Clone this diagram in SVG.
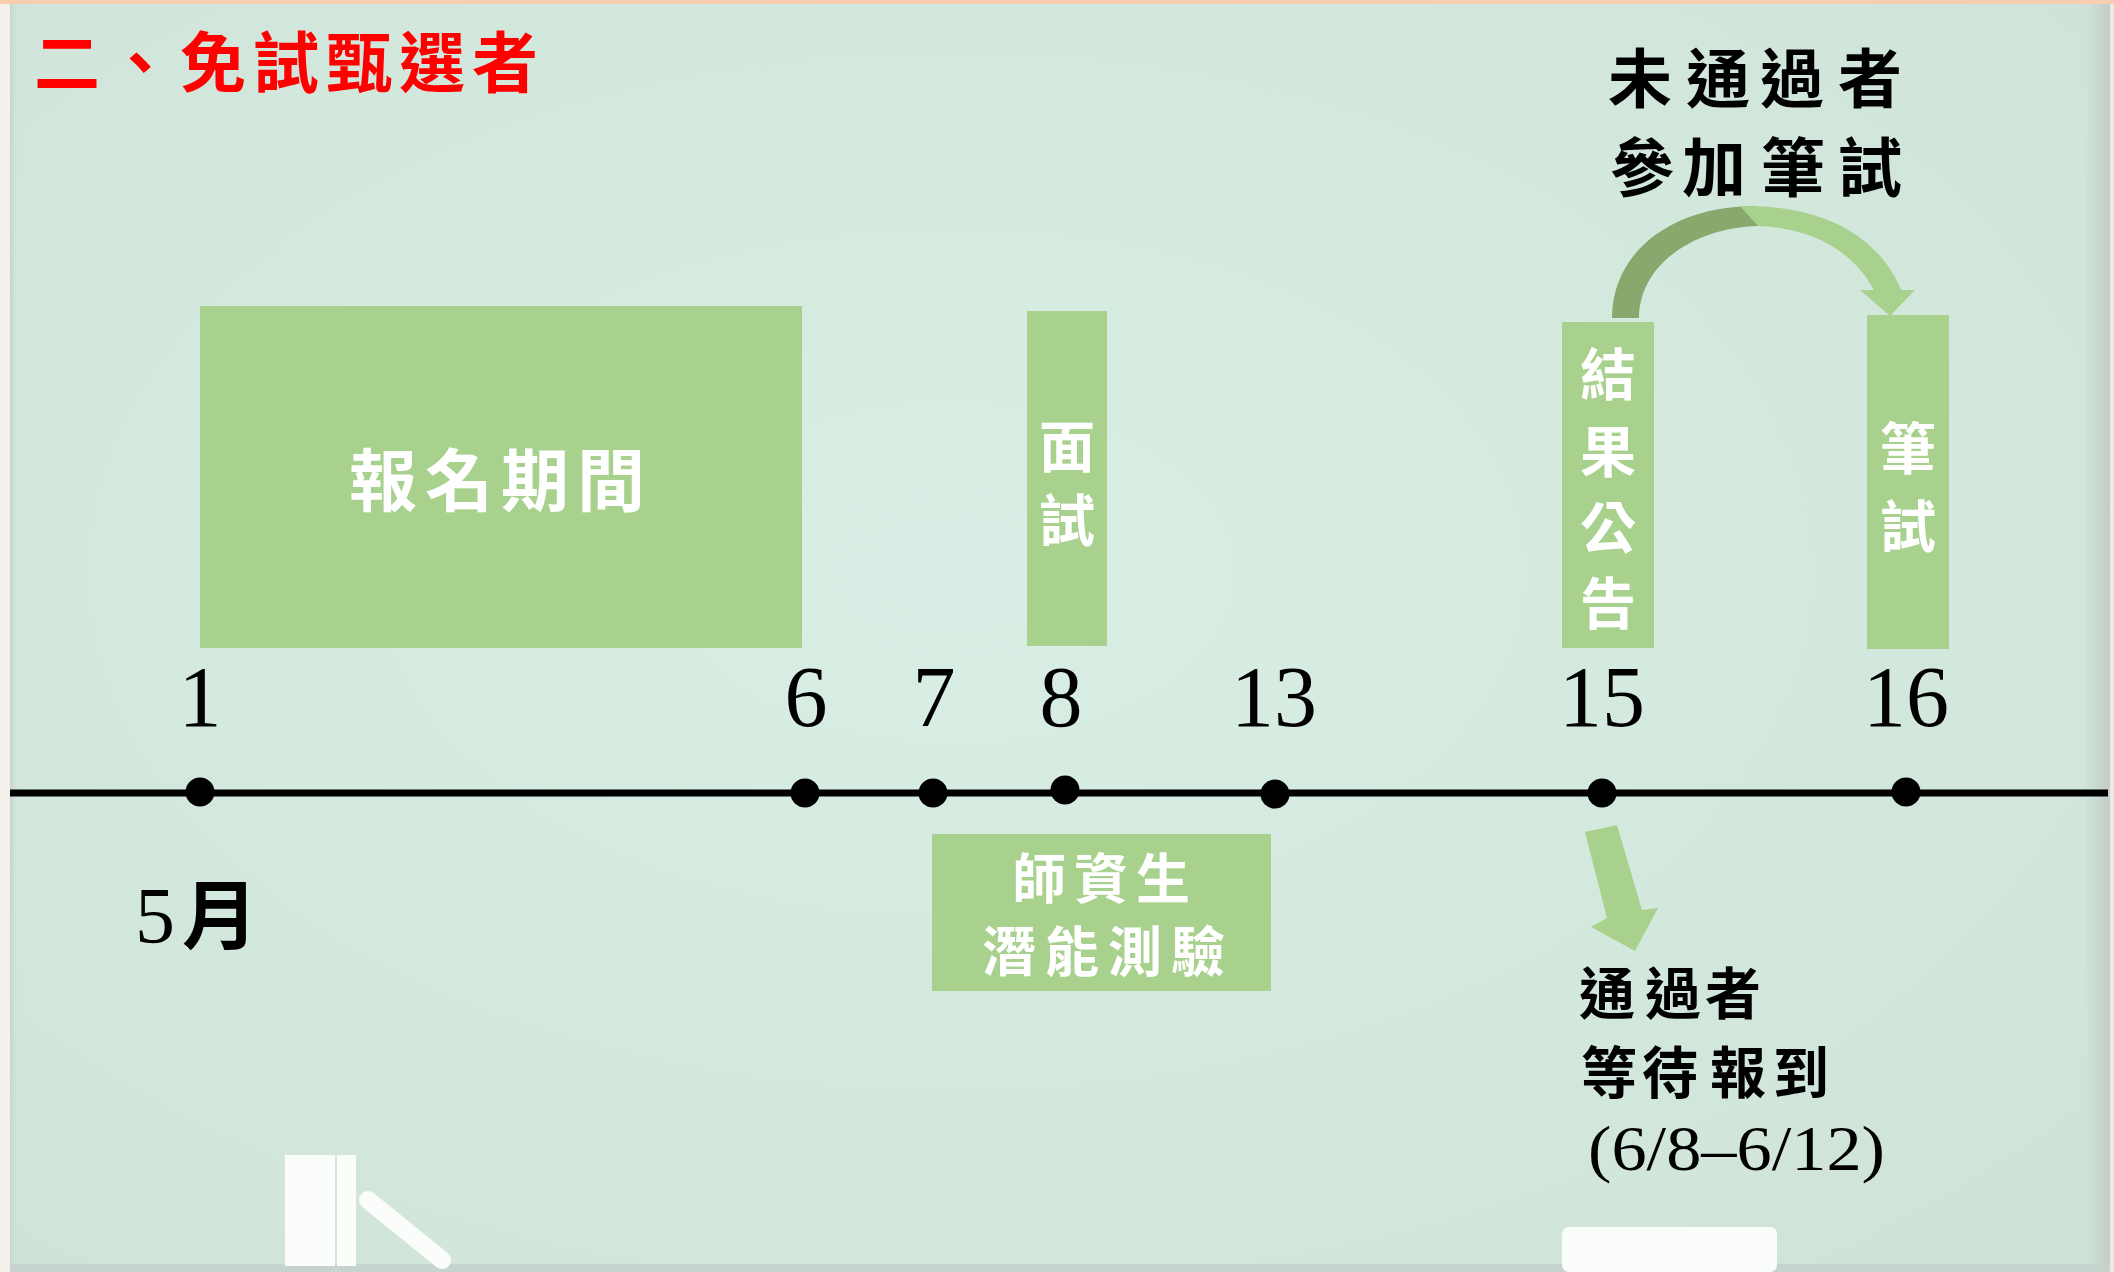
<svg xmlns="http://www.w3.org/2000/svg" width="2114" height="1272" viewBox="0 0 2114 1272">
  <defs>
    <radialGradient id="board" cx="0.45" cy="0.45" r="0.75">
      <stop offset="0" stop-color="#d9eee4"/>
      <stop offset="0.6" stop-color="#d3e8dd"/>
      <stop offset="1" stop-color="#cfe2d7"/>
    </radialGradient>
    <linearGradient id="rightEdge" x1="0" y1="0" x2="1" y2="0">
      <stop offset="0" stop-color="#d0e3d8"/>
      <stop offset="1" stop-color="#c3ccc8"/>
    </linearGradient>
    <linearGradient id="leftShadow" x1="0" y1="0" x2="1" y2="0">
      <stop offset="0" stop-color="#c9d2cc"/>
      <stop offset="1" stop-color="#d3e8dd" stop-opacity="0"/>
    </linearGradient>
    <style>
      .box { fill: #a9d18e; }
      .cjkw { font-family: "Noto Sans CJK TC", "Noto Sans CJK SC", sans-serif; font-weight: 700; fill: #ffffff; }
      .cjkb { font-family: "Noto Sans CJK TC", "Noto Sans CJK SC", sans-serif; font-weight: 700; fill: #000000; }
      .num { font-family: "Liberation Serif", serif; font-size: 86px; fill: #000000; text-anchor: middle; }
      .dot { fill: #000000; }
      .chalk { fill: #fbfdfb; }
    </style>
  </defs>

  <!-- background board -->
  <rect x="0" y="0" width="2114" height="1272" fill="url(#board)"/>
  <rect x="0" y="0" width="10" height="1272" fill="#f3f1ea"/>
  <rect x="10" y="0" width="10" height="1272" fill="url(#leftShadow)"/>
  <rect x="2086" y="0" width="24" height="1272" fill="url(#rightEdge)"/>
  <rect x="2110" y="0" width="4" height="1272" fill="#efebe3"/>
  <rect x="0" y="0" width="2114" height="4" fill="#f8cdb0"/>
  <rect x="10" y="1264" width="2100" height="8" fill="#c6d4cd"/>

  <!-- chalk and eraser -->
  <rect class="chalk" x="285" y="1155" width="50" height="111"/>
  <rect class="chalk" x="337" y="1155" width="19" height="111"/>
  <line x1="368" y1="1200" x2="442" y2="1260" stroke="#fbfdfb" stroke-width="18" stroke-linecap="round"/>
  <rect class="chalk" x="1562" y="1227" width="215" height="45" rx="7"/>

  <!-- title -->
  <g id="title">
    <text class="cjkb" x="34" y="87" font-size="66" style="fill:#ff0000" letter-spacing="7">二、免試甄選者</text>
  </g>

  <!-- timeline -->
  <g id="timeline">
    <line x1="10" y1="793" x2="2108" y2="793" stroke="#000000" stroke-width="7"/>
    <circle class="dot" cx="200" cy="792" r="14.5"/>
    <circle class="dot" cx="805" cy="793" r="14.5"/>
    <circle class="dot" cx="933" cy="793" r="14.5"/>
    <circle class="dot" cx="1065" cy="790" r="14.5"/>
    <circle class="dot" cx="1275" cy="794" r="14.5"/>
    <circle class="dot" cx="1602" cy="793" r="14.5"/>
    <circle class="dot" cx="1906" cy="792" r="14.5"/>
    <text class="num" x="200" y="726">1</text>
    <text class="num" x="806" y="726">6</text>
    <text class="num" x="934" y="726">7</text>
    <text class="num" x="1061" y="726">8</text>
    <text class="num" x="1274" y="726">13</text>
    <text class="num" x="1602" y="726">15</text>
    <text class="num" x="1906" y="726">16</text>
    <text x="135" y="943"><tspan font-family="Liberation Serif, serif" font-size="80" fill="#000">5</tspan><tspan class="cjkb" x="182" font-size="76">月</tspan></text>
  </g>

  <!-- nodes -->
  <g id="node-register">
    <rect class="box" x="200" y="306" width="602" height="342"/>
    <text class="cjkw" font-size="68" x="349 425 501 577" y="506">報名期間</text>
  </g>
  <g id="node-interview">
    <rect class="box" x="1027" y="311" width="80" height="335"/>
    <text class="cjkw" font-size="56" x="1039 1039" y="467 541">面試</text>
  </g>
  <g id="node-result">
    <rect class="box" x="1562" y="322" width="92" height="326"/>
    <text class="cjkw" font-size="56" x="1580 1580 1580 1580" y="395 472 548 624">結果公告</text>
  </g>
  <g id="node-written">
    <rect class="box" x="1867" y="315" width="82" height="334"/>
    <text class="cjkw" font-size="56" x="1880 1880" y="469 547">筆試</text>
  </g>
  <g id="node-aptitude">
    <rect class="box" x="932" y="834" width="339" height="157"/>
    <text class="cjkw" font-size="54" x="1012 1074 1136" y="899">師資生</text>
    <text class="cjkw" font-size="54" x="982 1045 1108 1171" y="972">潛能測驗</text>
  </g>
  <g id="label-fail">
    <text class="cjkb" font-size="64" x="1608 1686 1760 1838" y="102">未通過者</text>
    <text class="cjkb" font-size="64" x="1610 1682 1761 1838" y="191">參加筆試</text>
  </g>
  <g id="label-pass">
    <text class="cjkb" font-size="56" x="1579 1645 1705" y="1014">通過者</text>
    <text class="cjkb" font-size="56" x="1581 1642 1710 1773" y="1093">等待報到</text>
    <text x="1588" y="1170" font-family="Liberation Serif, serif" font-size="64" fill="#000" textLength="297" lengthAdjust="spacingAndGlyphs">(6/8–6/12)</text>
  </g>

  <!-- connectors -->
  <g id="connectors">
    <path d="M1612,318 C1612,252 1672,206 1755,206 L1758,226 C1692,228 1639,266 1639,318 Z" fill="#87a96e"/>
    <path d="M1740,206 C1825,204 1880,238 1901,290 L1915,290 L1890,316 L1860,290 L1874,290 C1852,250 1812,228 1758,226 Z" fill="#a9d18e"/>
    <polygon points="1585,832 1617,825 1642,910 1658,908 1635,951 1591,927 1607,918" fill="#a9d18e"/>
  </g>
</svg>
